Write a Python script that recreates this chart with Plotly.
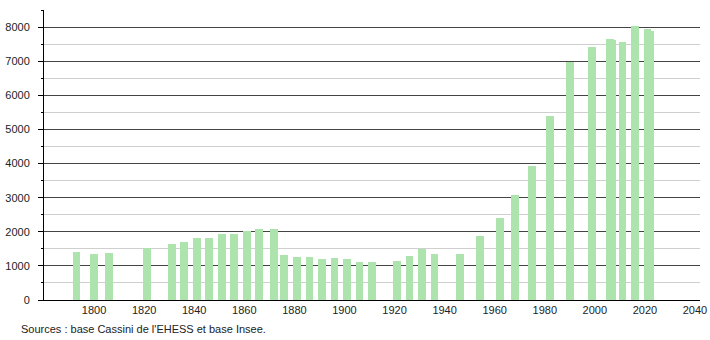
import plotly.graph_objects as go

years = [1793, 1800, 1806, 1821, 1831, 1836, 1841, 1846, 1851, 1856, 1861, 1866, 1872,
         1876, 1881, 1886, 1891, 1896, 1901, 1906, 1911, 1921, 1926, 1931, 1936, 1946,
         1954, 1962, 1968, 1975, 1982, 1990, 1999, 2006, 2007, 2011, 2016, 2021, 2022]
population = [1410, 1350, 1370, 1530, 1655, 1705, 1830, 1830, 1940, 1920, 2030, 2090, 2090,
              1325, 1275, 1275, 1215, 1245, 1195, 1125, 1100, 1155, 1300, 1490, 1360, 1360,
              1890, 2390, 3090, 3920, 5395, 6990, 7425, 7660, 7610, 7570, 8045, 7955, 7890]
x_ticks = [1800, 1820, 1840, 1860, 1880, 1900, 1920, 1940, 1960, 1980, 2000, 2020, 2040]
source_text = "Sources : base Cassini de l'EHESS et base Insee."

W, H = 710, 340
L, R, T, B = 44, 10, 10, 40
pw, ph = W - L - R, H - T - B

fig = go.Figure()
fig.add_trace(go.Bar(
    x=years, y=population, width=3.1,
    marker=dict(color="#ade3ad", line=dict(width=0)),
    hoverinfo="x+y",
))

fig.update_layout(
    width=W, height=H,
    margin=dict(l=L, r=R, t=T, b=B, autoexpand=False),
    paper_bgcolor="white", plot_bgcolor="white",
    showlegend=False,
    font=dict(family="Liberation Sans, Arial, sans-serif", size=11, color="#222"),
    bargap=0,
    xaxis=dict(
        range=[1780, 2042], tickvals=x_ticks, ticktext=[str(v) for v in x_ticks],
        showgrid=False, zeroline=False, showline=True, linecolor="#000", linewidth=1,
        ticks="", tickfont=dict(size=11, color="#222"), automargin=False,
    ),
    yaxis=dict(
        range=[0, 8500], dtick=1000, tick0=0,
        showgrid=True, gridcolor="#444", gridwidth=1,
        zeroline=False, showline=True, linecolor="#000", linewidth=1,
        ticks="outside", ticklen=5, tickcolor="#000", ticklabelstandoff=6,
        tickfont=dict(size=11, color="#222"), automargin=False,
        minor=dict(dtick=500, tick0=0, showgrid=True, gridcolor="#cfcfcf", gridwidth=1,
                   ticks="outside", ticklen=2, tickcolor="#000"),
    ),
    annotations=[dict(
        text=source_text, xref="paper", yref="paper",
        x=(19 - L) / pw, y=(H - B - 329) / ph, xanchor="left", yanchor="middle",
        showarrow=False, font=dict(size=11, color="#222"),
    )],
)

fig.write_html("out.html")
